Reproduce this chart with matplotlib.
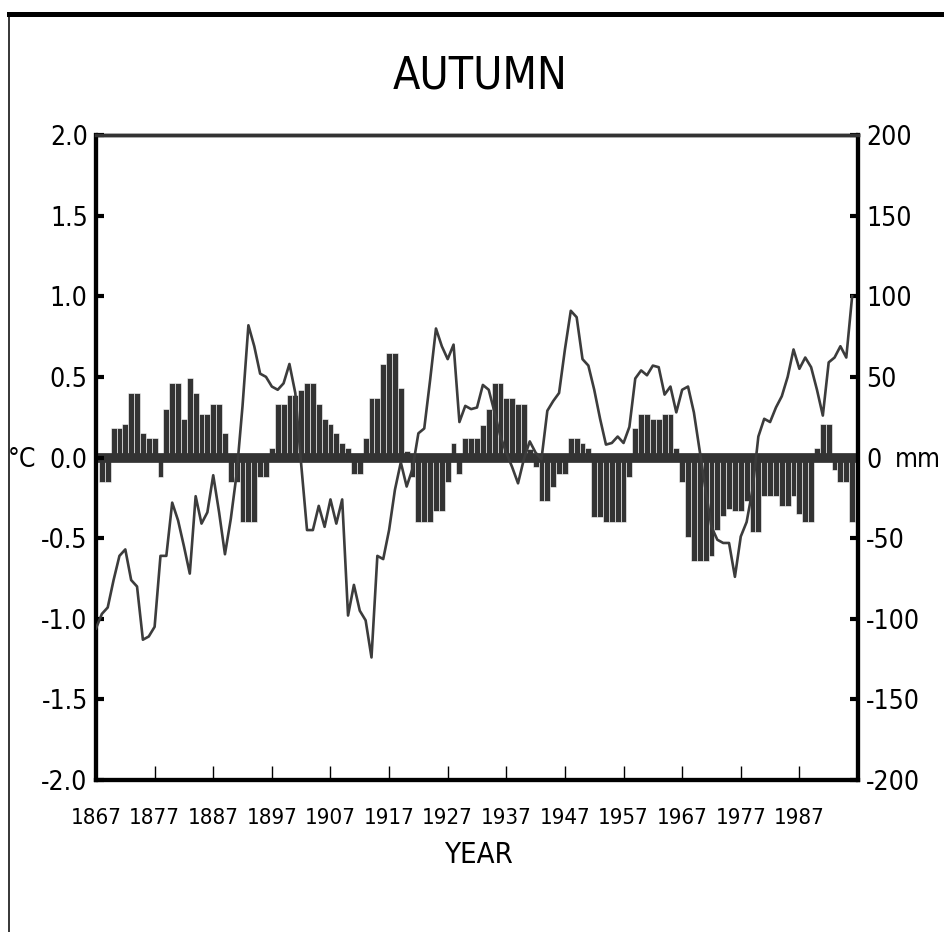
import numpy as np
import matplotlib
matplotlib.use("Agg")
import matplotlib.pyplot as plt
from matplotlib import font_manager
from matplotlib.lines import Line2D

# ---------------- data ----------------
line_start_year = 1867
temp_anom = [
    -1.06, -0.97, -0.93, -0.76, -0.61, -0.57, -0.76, -0.80, -1.13, -1.11,
    -1.05, -0.61, -0.61, -0.28, -0.39, -0.55, -0.72, -0.24, -0.41, -0.34,
    -0.11, -0.34, -0.60, -0.38, -0.10, 0.32, 0.82, 0.69, 0.52, 0.50,
    0.44, 0.42, 0.46, 0.58, 0.40, -0.04, -0.45, -0.45, -0.30, -0.43,
    -0.26, -0.41, -0.26, -0.98, -0.79, -0.95, -1.01, -1.24, -0.61, -0.63,
    -0.45, -0.20, -0.03, -0.18, -0.07, 0.15, 0.18, 0.48, 0.80, 0.69,
    0.61, 0.70, 0.22, 0.32, 0.30, 0.31, 0.45, 0.42, 0.28, 0.13,
    0.03, -0.06, -0.16, -0.01, 0.10, 0.03, -0.01, 0.29, 0.35, 0.40,
    0.67, 0.91, 0.87, 0.61, 0.57, 0.42, 0.24, 0.08, 0.09, 0.13,
    0.09, 0.19, 0.49, 0.54, 0.51, 0.57, 0.56, 0.39, 0.44, 0.28,
    0.42, 0.44, 0.28, 0.04, -0.20, -0.43, -0.51, -0.53, -0.53, -0.74,
    -0.49, -0.40, -0.20, 0.13, 0.24, 0.22, 0.31, 0.38, 0.50, 0.67,
    0.55, 0.62, 0.56, 0.42, 0.26, 0.59, 0.62, 0.69, 0.62, 1.00,
]
bar_start_year = 1868
precip_anom = [
    -15, -15, 18, 18, 21, 40, 40, 15, 12, 12,
    -12, 30, 46, 46, 24, 49, 40, 27, 27, 33,
    33, 15, -15, -15, -40, -40, -40, -12, -12, 6,
    33, 33, 39, 39, 42, 46, 46, 33, 24, 21,
    15, 9, 6, -10, -10, 12, 37, 37, 58, 65,
    65, 43, 4, -12, -40, -40, -40, -33, -33, -15,
    9, -10, 12, 12, 12, 20, 30, 46, 46, 37,
    37, 33, 33, 5, -6, -27, -27, -18, -10, -10,
    12, 12, 9, 6, -37, -37, -40, -40, -40, -40,
    -12, 18, 27, 27, 24, 24, 27, 27, 6, -15,
    -49, -64, -64, -64, -61, -45, -36, -32, -33, -33,
    -27, -46, -46, -24, -24, -24, -30, -30, -24, -35,
    -40, -40, 6, 21, 21, -8, -15, -15, -40,
]
temp_ticks = [2.0, 1.5, 1.0, 0.5, 0.0, -0.5, -1.0, -1.5, -2.0]
temp_labels = ["2.0", "1.5", "1.0", "0.5", "0.0", "-0.5", "-1.0", "-1.5", "-2.0"]
mm_ticks = [200, 150, 100, 50, 0, -50, -100, -150, -200]
mm_labels = ["200", "150", "100", "50", "0", "-50", "-100", "-150", "-200"]
year_ticks = [1867, 1877, 1887, 1897, 1907, 1917, 1927, 1937, 1947, 1957, 1967, 1977, 1987, 1997]
year_labels = ["1867", "1877", "1887", "1897", "1907", "1917", "1927", "1937", "1947",
               "1957", "1967", "1977", "1987", ""]
title = "AUTUMN"
xlabel = "YEAR"

# ---------------- fonts ----------------
names = {f.name for f in font_manager.fontManager.ttflist}
if "Liberation Sans Narrow" in names:
    FONT = dict(family=["Liberation Sans Narrow", "DejaVu Sans"])
else:
    FONT = dict(family=["DejaVu Sans"], stretch="condensed")

# ---------------- figure ----------------
fig = plt.figure(figsize=(9.44, 9.32), dpi=100)
W, H = 944, 932
left, right, top, bottom = 96, 858, 135, 780
ax = fig.add_axes([left / W, 1 - bottom / H, (right - left) / W, (bottom - top) / H])
ax2 = ax.twinx()

dark = "#333333"
line_years = np.arange(line_start_year, line_start_year + len(temp_anom))
bar_years = np.arange(bar_start_year, bar_start_year + len(precip_anom))

ax2.bar(bar_years, precip_anom, width=1.0, color=dark, edgecolor="white",
        linewidth=0.4, zorder=2)
ax2.set_ylim(-200, 200)

ax.set_zorder(ax2.get_zorder() + 1)
ax.patch.set_visible(False)
ax.axhline(0, color=dark, lw=7, zorder=1)
ax.plot(line_years, temp_anom, color="#3c3c3c", lw=1.9, zorder=3)
ax.set_ylim(-2.0, 2.0)
ax.set_xlim(1867, 1997)

ax.set_yticks(temp_ticks)
ax.set_yticklabels(temp_labels, fontsize=19, **FONT)
ax2.set_yticks(mm_ticks)
ax2.set_yticklabels(mm_labels, fontsize=19, **FONT)
ax.set_xticks(year_ticks)
ax.set_xticklabels(year_labels, fontsize=16, **FONT)

ax.tick_params(axis="y", direction="in", length=6, width=3, pad=6, colors="black")
ax2.tick_params(axis="y", direction="in", length=6, width=3, pad=6, colors="black")
ax.tick_params(axis="x", direction="in", length=10, width=1, pad=20)
ax2.tick_params(axis="x", length=0)

for a in (ax, ax2):
    for s in ("left", "right", "bottom"):
        a.spines[s].set_linewidth(3)
        a.spines[s].set_color("black")
    a.spines["top"].set_linewidth(2.5)
    a.spines["top"].set_color(dark)

fig.text(480 / W, 1 - 76 / H, title, ha="center", va="center", fontsize=32, **FONT)
fig.text(478 / W, 1 - 855 / H, xlabel, ha="center", va="center", fontsize=21, **FONT)
fig.text(22 / W, 1 - 460 / H, "°C", ha="center", va="center", fontsize=19, **FONT)
fig.text(918 / W, 1 - 460 / H, "mm", ha="center", va="center", fontsize=19, **FONT)

# outer frame
fig.add_artist(Line2D([9 / W, 1.0], [1 - 14 / H, 1 - 14 / H], transform=fig.transFigure,
                      color="black", lw=3.6))
fig.add_artist(Line2D([9 / W, 9 / W], [0.0, 1 - 14 / H], transform=fig.transFigure,
                      color="black", lw=1.1))

fig.savefig("out.png", dpi=100, facecolor="white")
